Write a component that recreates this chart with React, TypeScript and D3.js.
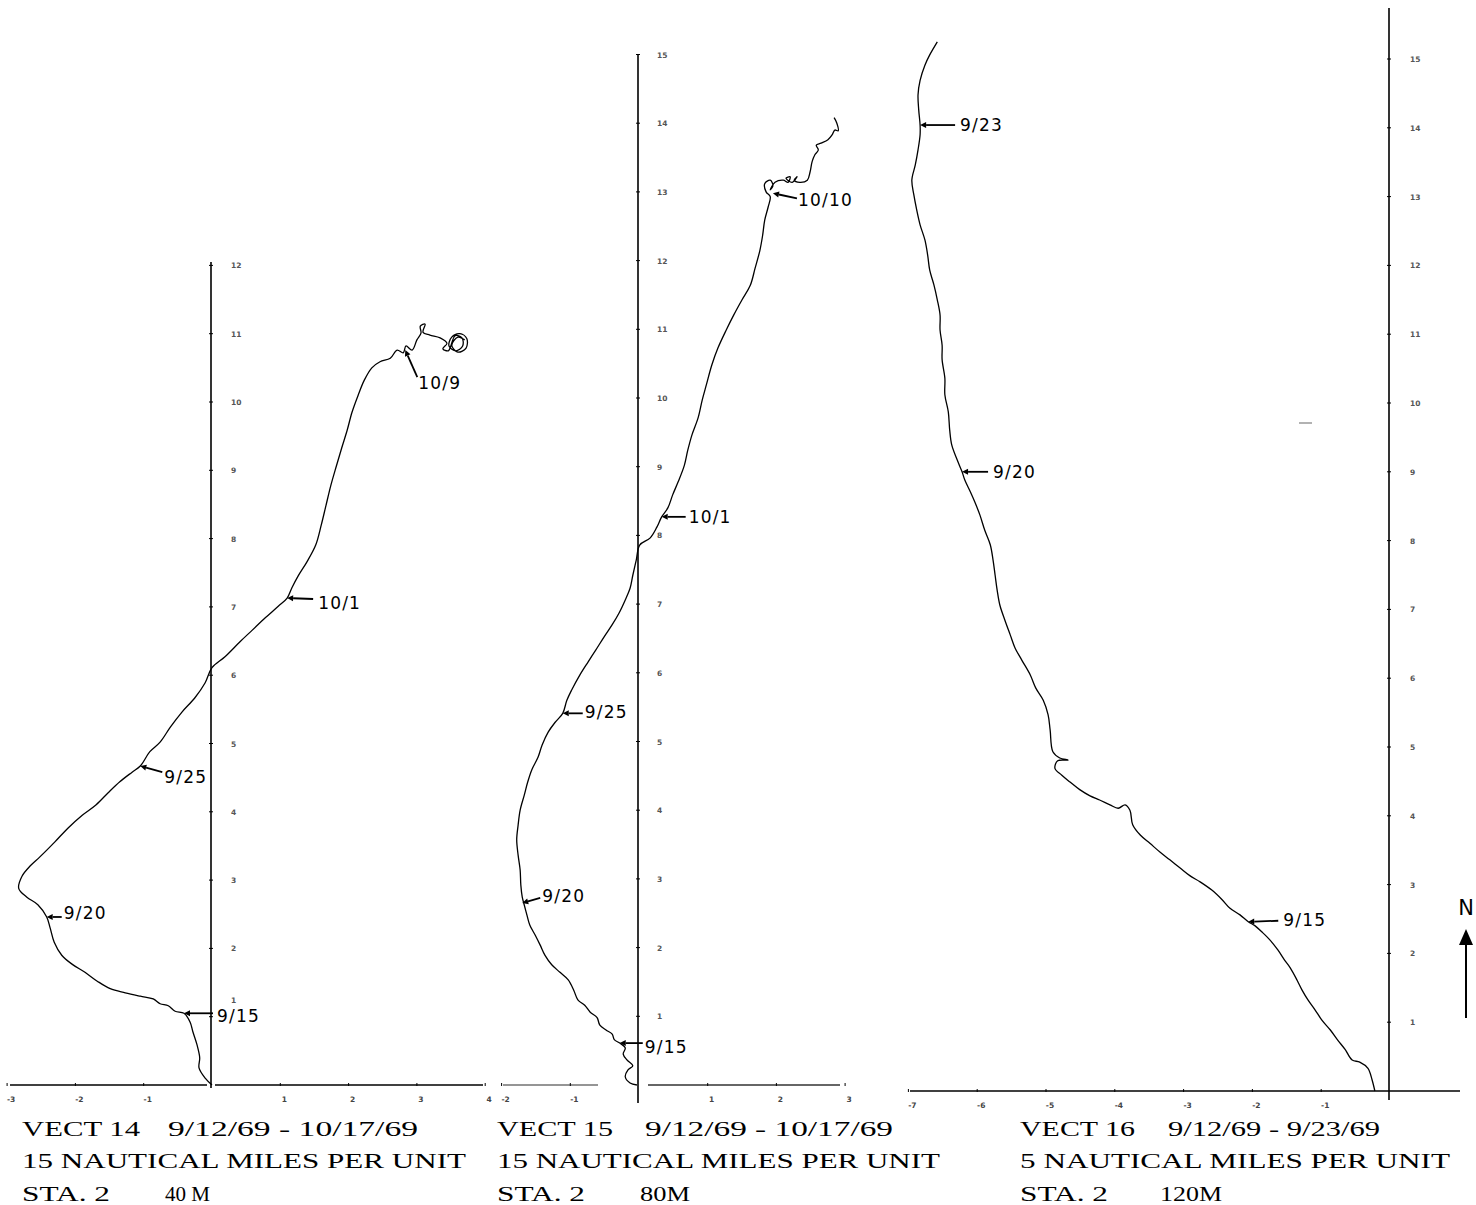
import React from "react";
import * as d3 from "d3";

// ---------- DATA (units: scale units east / north of station) ----------
const VECT14_PATH: [number, number][] = [
  [0, 0], [-0.1, 0.1], [-0.19, 0.25], [-0.18, 0.4], [-0.22, 0.59], [-0.28, 0.78], [-0.32, 0.92], [-0.41, 1.05],
  [-0.54, 1.08], [-0.64, 1.16], [-0.76, 1.19], [-0.86, 1.26], [-1.05, 1.3], [-1.27, 1.35], [-1.49, 1.41],
  [-1.68, 1.52], [-1.86, 1.65], [-2.05, 1.77], [-2.2, 1.9], [-2.31, 2.09], [-2.37, 2.3], [-2.42, 2.46],
  [-2.55, 2.64], [-2.71, 2.75], [-2.83, 2.88], [-2.78, 3.06], [-2.66, 3.21], [-2.52, 3.34], [-2.3, 3.56],
  [-2.11, 3.76], [-1.9, 3.95], [-1.7, 4.1], [-1.52, 4.28], [-1.35, 4.44], [-1.17, 4.58], [-1.05, 4.67],
  [-0.91, 4.88], [-0.76, 5.02], [-0.61, 5.24], [-0.44, 5.46], [-0.25, 5.67], [-0.1, 5.89], [0, 6.11],
  [0.19, 6.27], [0.41, 6.49], [0.59, 6.66], [0.78, 6.84], [0.97, 7.01], [1.1, 7.13], [1.17, 7.28],
  [1.26, 7.45], [1.39, 7.66], [1.52, 7.91], [1.6, 8.2], [1.67, 8.49], [1.74, 8.78], [1.82, 9.06],
  [1.9, 9.33], [1.98, 9.59], [2.05, 9.85], [2.14, 10.1], [2.23, 10.32], [2.34, 10.5], [2.46, 10.59],
  [2.61, 10.64], [2.71, 10.76], [2.8, 10.72], [2.84, 10.82], [2.93, 10.76], [3.0, 10.91], [3.06, 11.01],
  [3.05, 11.11], [3.12, 11.14], [3.09, 11.02], [3.19, 10.98], [3.34, 10.94], [3.44, 10.86], [3.38, 10.78],
  [3.46, 10.75], [3.56, 10.97], [3.66, 10.94], [3.67, 10.82], [3.57, 10.75], [3.47, 10.82], [3.51, 10.95],
  [3.63, 11.0], [3.73, 10.93], [3.72, 10.79], [3.6, 10.73], [3.51, 10.83], [3.6, 10.95], [3.7, 10.91],
];

const VECT15_PATH: [number, number][] = [
  [-0.03, 0], [-0.13, 0.03], [-0.2, 0.12], [-0.16, 0.22], [-0.09, 0.28], [-0.17, 0.36], [-0.23, 0.45],
  [-0.2, 0.54], [-0.28, 0.61], [-0.36, 0.66], [-0.39, 0.74], [-0.48, 0.8], [-0.57, 0.87], [-0.61, 0.98],
  [-0.71, 1.06], [-0.79, 1.16], [-0.89, 1.24], [-0.95, 1.38], [-1.03, 1.53], [-1.15, 1.64], [-1.27, 1.75],
  [-1.37, 1.89], [-1.44, 2.04], [-1.51, 2.18], [-1.59, 2.33], [-1.63, 2.47], [-1.67, 2.62], [-1.7, 2.74],
  [-1.72, 2.91], [-1.73, 3.13], [-1.76, 3.35], [-1.78, 3.57], [-1.76, 3.78], [-1.73, 4.0], [-1.67, 4.22],
  [-1.62, 4.41], [-1.56, 4.59], [-1.47, 4.77], [-1.41, 4.95], [-1.32, 5.14], [-1.22, 5.28], [-1.11, 5.41],
  [-1.05, 5.6], [-0.98, 5.75], [-0.86, 5.97], [-0.74, 6.16], [-0.63, 6.33], [-0.51, 6.52], [-0.39, 6.7],
  [-0.29, 6.87], [-0.2, 7.06], [-0.13, 7.23], [-0.09, 7.42], [-0.04, 7.64], [0.01, 7.86], [0.16, 7.96],
  [0.26, 8.12], [0.33, 8.27], [0.42, 8.4], [0.49, 8.59], [0.57, 8.78], [0.66, 9.02], [0.71, 9.24],
  [0.77, 9.46], [0.86, 9.71], [0.92, 9.97], [0.98, 10.19], [1.06, 10.48], [1.15, 10.73], [1.27, 10.99],
  [1.38, 11.21], [1.5, 11.43], [1.62, 11.64], [1.69, 11.89], [1.76, 12.15], [1.8, 12.37], [1.83, 12.59],
  [1.88, 12.78], [1.91, 12.93], [1.85, 13.0], [1.83, 13.12], [1.91, 13.17], [1.95, 13.09], [1.91, 13.03],
  [1.98, 13.14], [2.1, 13.17], [2.17, 13.14], [2.2, 13.22], [2.14, 13.2], [2.23, 13.14], [2.3, 13.22],
  [2.26, 13.17], [2.34, 13.14], [2.45, 13.17], [2.49, 13.29], [2.52, 13.44], [2.56, 13.54], [2.61, 13.61],
  [2.58, 13.68], [2.65, 13.71], [2.75, 13.76], [2.81, 13.83], [2.85, 13.9], [2.9, 13.89], [2.88, 14.0],
  [2.84, 14.08],
];

const VECT16_PATH: [number, number][] = [
  [-0.22, 0], [-0.26, 0.16], [-0.32, 0.33], [-0.44, 0.42], [-0.55, 0.45], [-0.65, 0.6], [-0.76, 0.74],
  [-0.87, 0.89], [-0.99, 1.03], [-1.09, 1.18], [-1.19, 1.32], [-1.28, 1.47], [-1.35, 1.61], [-1.45, 1.79],
  [-1.53, 1.9], [-1.63, 2.05], [-1.74, 2.19], [-1.86, 2.31], [-1.96, 2.4], [-2.06, 2.46], [-2.18, 2.56],
  [-2.33, 2.66], [-2.44, 2.78], [-2.59, 2.92], [-2.76, 3.04], [-2.91, 3.13], [-3.05, 3.24], [-3.2, 3.36],
  [-3.34, 3.47], [-3.49, 3.6], [-3.63, 3.72], [-3.74, 3.87], [-3.78, 4.08], [-3.85, 4.16], [-3.95, 4.11],
  [-4.07, 4.16], [-4.22, 4.23], [-4.36, 4.29], [-4.51, 4.38], [-4.65, 4.49], [-4.77, 4.59], [-4.87, 4.69],
  [-4.83, 4.8], [-4.68, 4.81], [-4.8, 4.84], [-4.9, 4.93], [-4.94, 5.25], [-4.97, 5.47], [-5.04, 5.68],
  [-5.15, 5.86], [-5.23, 6.05], [-5.35, 6.26], [-5.45, 6.44], [-5.52, 6.63], [-5.6, 6.85], [-5.67, 7.06],
  [-5.71, 7.28], [-5.74, 7.5], [-5.77, 7.72], [-5.81, 7.94], [-5.89, 8.15], [-5.96, 8.37], [-6.03, 8.55],
  [-6.1, 8.71], [-6.18, 8.88], [-6.22, 9.0], [-6.29, 9.17], [-6.37, 9.39], [-6.4, 9.61], [-6.42, 9.87],
  [-6.47, 10.12], [-6.47, 10.36], [-6.51, 10.63], [-6.51, 10.84], [-6.54, 11.06], [-6.54, 11.28],
  [-6.58, 11.5], [-6.63, 11.72], [-6.69, 11.93], [-6.72, 12.15], [-6.76, 12.37], [-6.83, 12.59],
  [-6.88, 12.81], [-6.92, 13.02], [-6.95, 13.24], [-6.9, 13.46], [-6.86, 13.68], [-6.83, 13.9],
  [-6.83, 14.04], [-6.85, 14.26], [-6.86, 14.48], [-6.83, 14.69], [-6.76, 14.91], [-6.69, 15.06],
  [-6.58, 15.25],
];

const VECT14_DATES = ["9/15", "9/20", "9/25", "10/1", "10/9"];
const VECT14_DATE_X = [-0.41, -2.42, -1.05, 1.1, 2.83];
const VECT14_DATE_Y = [1.05, 2.46, 4.67, 7.13, 10.76];

const VECT15_DATES = ["9/15", "9/20", "9/25", "10/1", "10/10"];
const VECT15_DATE_X = [-0.28, -1.7, -1.11, 0.33, 1.95];
const VECT15_DATE_Y = [0.61, 2.65, 5.41, 8.27, 12.98];

const VECT16_DATES = ["9/23", "9/20", "9/15"];
const VECT16_DATE_X = [-6.83, -6.22, -2.06];
const VECT16_DATE_Y = [14.04, 9.0, 2.46];

const VECT14_XTICKS = [-3, -2, -1, 1, 2, 3, 4];
const VECT14_YTICKS = [1, 2, 3, 4, 5, 6, 7, 8, 9, 10, 11, 12];
const VECT15_XTICKS = [-2, -1, 1, 2, 3];
const VECT15_YTICKS = [1, 2, 3, 4, 5, 6, 7, 8, 9, 10, 11, 12, 13, 14, 15];
const VECT16_XTICKS = [-7, -6, -5, -4, -3, -2, -1];
const VECT16_YTICKS = [1, 2, 3, 4, 5, 6, 7, 8, 9, 10, 11, 12, 13, 14, 15];

const VECT14_CAPTION = ["VECT 14", "9/12/69 - 10/17/69", "15 NAUTICAL MILES PER UNIT", "STA. 2", "40 M"];
const VECT15_CAPTION = ["VECT 15", "9/12/69 - 10/17/69", "15 NAUTICAL MILES PER UNIT", "STA. 2", "80M"];
const VECT16_CAPTION = ["VECT 16", "9/12/69 - 9/23/69", "5 NAUTICAL MILES PER UNIT", "STA. 2", "120M"];

// ---------- LAYOUT ----------
type Layout = {
  ox: number; oy: number; s: number;
  xSegs: [number, number, number][];
  yTop: number; yBottom: number;
  yLabelX: number;
  labelOffsets: [number, number, number, number][];
  capSegs: [number, number][];
};

const LAYOUTS: Layout[] = [
  {
    ox: 212, oy: 1085, s: 68.3,
    xSegs: [[10, 207, 1], [215, 483, 1]],
    yTop: 262, yBottom: 1088, yLabelX: 231,
    labelOffsets: [[29, 0, 33, 9], [15, 0, 17, 2], [22, 6, 24, 17], [26, 1, 31, 11], [12, 27, 13, 39]],
    capSegs: [[22, 118], [168, 250], [22, 444], [22, 88], [165, 45]],
  },
  {
    ox: 639, oy: 1085, s: 68.7,
    xSegs: [[503, 598, 0.55], [648, 840, 0.8]],
    yTop: 55, yBottom: 1103, yLabelX: 657,
    labelOffsets: [[23, 0, 25, 10], [18, -5, 20, -1], [20, 0, 22, 5], [24, 0, 27, 6], [24, 5, 25, 13]],
    capSegs: [[497, 116], [645, 248], [497, 443], [497, 88], [640, 50]],
  },
  {
    ox: 1390, oy: 1091, s: 68.8,
    xSegs: [[910, 1460, 1]],
    yTop: 8, yBottom: 1100, yLabelX: 1410,
    labelOffsets: [[35, 0, 40, 6], [26, 0, 31, 6], [30, -1, 35, 4]],
    capSegs: [[1020, 115], [1168, 212], [1020, 430], [1020, 88], [1160, 62]],
  },
];

const PANELS = [
  { path: VECT14_PATH, dates: VECT14_DATES, dx: VECT14_DATE_X, dy: VECT14_DATE_Y, xt: VECT14_XTICKS, yt: VECT14_YTICKS, cap: VECT14_CAPTION },
  { path: VECT15_PATH, dates: VECT15_DATES, dx: VECT15_DATE_X, dy: VECT15_DATE_Y, xt: VECT15_XTICKS, yt: VECT15_YTICKS, cap: VECT15_CAPTION },
  { path: VECT16_PATH, dates: VECT16_DATES, dx: VECT16_DATE_X, dy: VECT16_DATE_Y, xt: VECT16_XTICKS, yt: VECT16_YTICKS, cap: VECT16_CAPTION },
];

const DATE_FONT = "'DejaVu Sans', Verdana, sans-serif";
const CAP_FONT = "'Liberation Serif', 'DejaVu Serif', serif";

function Panel({ p, L, idx }: { p: typeof PANELS[number]; L: Layout; idx: number }) {
  const x = d3.scaleLinear().domain([0, 1]).range([L.ox, L.ox + L.s]);
  const y = d3.scaleLinear().domain([0, 1]).range([L.oy, L.oy - L.s]);
  const line = d3.line<[number, number]>().x((d) => x(d[0])).y((d) => y(d[1])).curve(d3.curveCatmullRom.alpha(0.5));
  const capY = [1136, 1168, 1201];
  return (
    <g>
      {L.xSegs.map(([a, b, o], i) => (
        <line key={"xs" + i} x1={a} x2={b} y1={L.oy} y2={L.oy} stroke="#000" strokeWidth={1.6} opacity={o} />
      ))}
      <line x1={L.ox - 1} x2={L.ox - 1} y1={L.yTop} y2={L.yBottom} stroke="#000" strokeWidth={1.6} />
      {p.yt.map((t) => (
        <g key={"yt" + t}>
          <line x1={L.ox - 3} x2={L.ox + 1} y1={y(t)} y2={y(t)} stroke="#000" strokeWidth={1} />
          <text x={L.yLabelX} y={y(t) + (idx === 0 && t === 1 ? -14 : 3)} fontSize={7.5} fontFamily={DATE_FONT} fill="#555" fontWeight="bold">{t}</text>
        </g>
      ))}
      {p.xt.map((t) => (
        <g key={"xt" + t}>
          <line x1={x(t)} x2={x(t)} y1={L.oy - 2} y2={L.oy + 1} stroke="#000" strokeWidth={1} />
          <text x={x(t) + 4} y={L.oy + 17} fontSize={7.5} fontFamily={DATE_FONT} fill="#444" fontWeight="bold" textAnchor="middle">
            {t < 0 ? "-" + Math.abs(t) : t}
          </text>
        </g>
      ))}
      <path d={line(p.path) || ""} fill="none" stroke="#000" strokeWidth={1.3} strokeLinejoin="round" />
      {p.dates.map((dstr, i) => {
        const ax = x(p.dx[i]);
        const ay = y(p.dy[i]);
        const [ex, ey, lx, ly] = L.labelOffsets[i];
        const bx = ax + ex;
        const by = ay + ey;
        const ang = Math.atan2(ay - by, ax - bx);
        const h = 6, w = 3;
        const base = [ax - h * Math.cos(ang), ay - h * Math.sin(ang)];
        const p1 = [base[0] + w * Math.sin(ang), base[1] - w * Math.cos(ang)];
        const p2 = [base[0] - w * Math.sin(ang), base[1] + w * Math.cos(ang)];
        return (
          <g key={"d" + i}>
            <line x1={bx} y1={by} x2={base[0]} y2={base[1]} stroke="#000" strokeWidth={1.8} />
            <polygon points={`${ax},${ay} ${p1[0]},${p1[1]} ${p2[0]},${p2[1]}`} fill="#000" />
            <text x={ax + lx} y={ay + ly} fontSize={17} fontFamily={DATE_FONT} letterSpacing={1.2} fill="#000">{dstr}</text>
          </g>
        );
      })}
      {p.cap.map((c, i) => {
        const row = i < 2 ? 0 : i === 2 ? 1 : 2;
        const [cx, cw] = L.capSegs[i];
        return (
          <text key={"c" + i} x={cx} y={capY[row]} fontSize={20} fontFamily={CAP_FONT} fill="#000"
            textLength={cw} lengthAdjust="spacingAndGlyphs">{c}</text>
        );
      })}
    </g>
  );
}

export default function App() {
  return (
    <svg width={1476} height={1205} style={{ position: "absolute", left: 0, top: 0, background: "#fff" }}>
      <rect x={0} y={0} width={1476} height={1205} fill="#fff" />
      {PANELS.map((p, i) => (
        <Panel key={i} p={p} L={LAYOUTS[i]} idx={i} />
      ))}
      <text x={1466} y={915} fontSize={21} fontFamily={DATE_FONT} textAnchor="middle" fill="#000">N</text>
      <line x1={1466} x2={1466} y1={1018} y2={942} stroke="#000" strokeWidth={2} />
      <polygon points="1466,929 1459,945 1473,945" fill="#000" />
      <line x1={1299} x2={1312} y1={423} y2={423} stroke="#000" strokeWidth={1} opacity={0.6} />
    </svg>
  );
}
